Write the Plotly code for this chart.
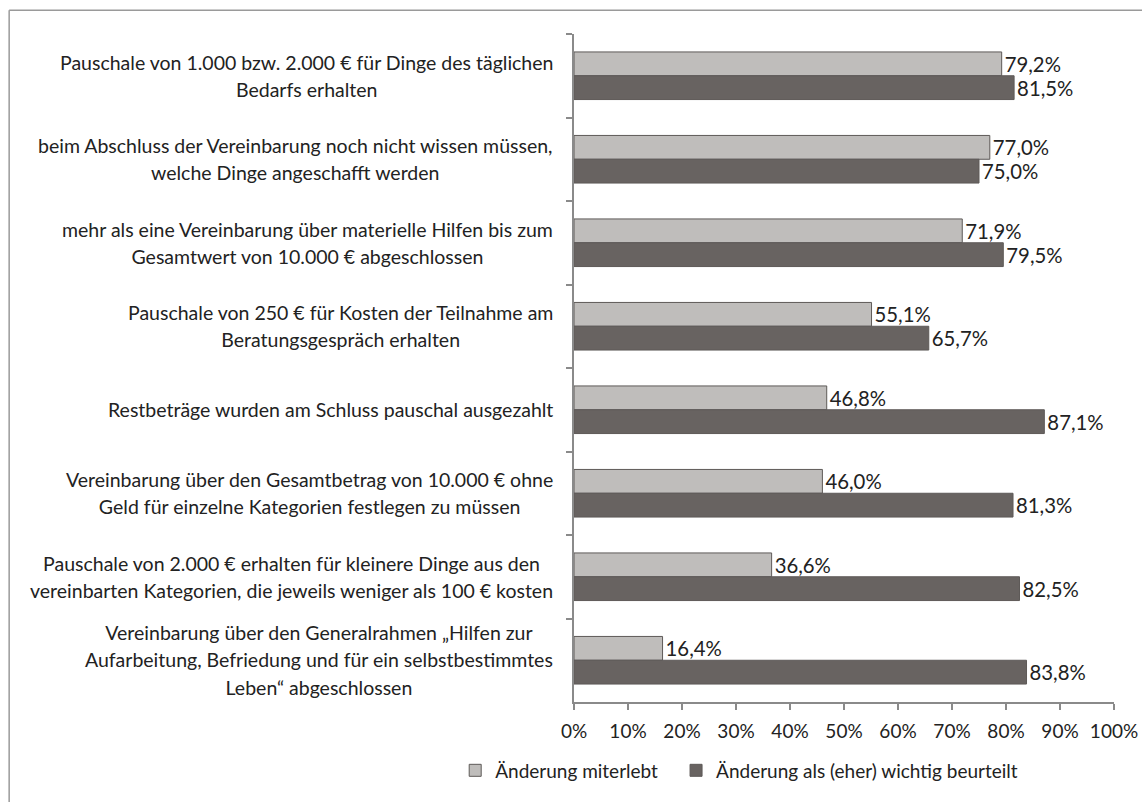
import plotly.graph_objects as go

categories = [
    "Pauschale von 1.000 bzw. 2.000 € für Dinge des täglichen<br>Bedarfs erhalten",
    "beim Abschluss der Vereinbarung noch nicht wissen müssen,<br>welche Dinge angeschafft werden",
    "mehr als eine Vereinbarung über materielle Hilfen bis zum<br>Gesamtwert von 10.000 € abgeschlossen",
    "Pauschale von 250 € für Kosten der Teilnahme am<br>Beratungsgespräch erhalten",
    "Restbeträge wurden am Schluss pauschal ausgezahlt",
    "Vereinbarung über den Gesamtbetrag von 10.000 € ohne<br>Geld für einzelne Kategorien festlegen zu müssen",
    "Pauschale von 2.000 € erhalten für kleinere Dinge aus den<br>vereinbarten Kategorien, die jeweils weniger als 100 € kosten",
    "Vereinbarung über den Generalrahmen „Hilfen zur<br>Aufarbeitung, Befriedung und für ein selbstbestimmtes<br>Leben“ abgeschlossen",
]
miterlebt = [79.2, 77.0, 71.9, 55.1, 46.8, 46.0, 36.6, 16.4]
wichtig = [81.5, 75.0, 79.5, 65.7, 87.1, 81.3, 82.5, 83.8]
series_names = ["Änderung miterlebt", "Änderung als (eher) wichtig beurteilt"]

FONT = "Lato"
FS = 19.5


def pct(v):
    return f"{v:.1f}".replace(".", ",") + "%"


ids = [f"c{i}" for i in range(len(categories))]

fig = go.Figure()
for name, vals, col, leg in [(series_names[0], miterlebt, "#bfbdbb", "legend"),
                             (series_names[1], wichtig, "#686361", "legend2")]:
    fig.add_trace(go.Bar(
        y=ids, x=[v / 100 for v in vals], orientation="h", name=name, legend=leg,
        marker=dict(color=col, line=dict(color="#5e5a58", width=1)),
        text=[pct(v) for v in vals], textposition="outside",
        textfont=dict(family=FONT, size=20.5, color="#222"),
        cliponaxis=False,
    ))

# category labels, centred multi-line text (bigger outer font gives the wider line spacing)
for cid, lab in zip(ids, categories):
    inner = "<br>".join(f"<span style='font-size:{FS}px'>{ln}</span>" for ln in lab.split("<br>"))
    fig.add_annotation(x=0, xref="paper", y=cid, yref="y", xanchor="right", xshift=-19,
                       text=inner, align="center", showarrow=False,
                       font=dict(family=FONT, size=21, color="#222"))

# outer frame: only left and top edges are inside the picture
frame = dict(color="#9a9a9a", width=1.5)
fig.add_shape(type="line", xref="paper", yref="paper", x0=-1.046, x1=-1.046, y0=-0.3, y1=1.0357,
              line=frame, layer="below")
fig.add_shape(type="line", xref="paper", yref="paper", x0=-1.046, x1=1.3, y0=1.0357, y1=1.0357,
              line=frame, layer="below")

leg_style = dict(orientation="h", xanchor="left", y=-0.1025, yanchor="middle",
                 font=dict(family=FONT, size=19, color="#222"))

fig.update_layout(
    width=1142, height=802,
    margin=dict(l=574, r=28, t=34, b=96),
    plot_bgcolor="white", paper_bgcolor="white",
    barmode="group", bargap=0.43, bargroupgap=0,
    font=dict(family=FONT, size=FS, color="#222"),
    showlegend=True,
    legend=dict(x=-0.22, **leg_style),
    legend2=dict(x=0.189, **leg_style),
    xaxis=dict(range=[0, 1], tickformat=".0%", dtick=0.1, showgrid=False, zeroline=False,
               showline=True, linecolor="#8a8a8a", linewidth=1.5, automargin=False,
               tickfont=dict(size=19), ticklabelstandoff=5,
               ticks="outside", ticklen=6, tickcolor="#8a8a8a", tickwidth=1.5),
    yaxis=dict(type="category", autorange="reversed", showticklabels=False, showgrid=False,
               showline=True, linecolor="#8a8a8a", linewidth=1.5, automargin=False,
               ticks="outside", ticklen=6, tickcolor="#8a8a8a", tickwidth=1.5,
               tickson="boundaries"),
)

fig.write_html("out.html", config={"displayModeBar": False},
               post_script="document.body.style.margin='0';document.body.style.overflow='hidden';")
